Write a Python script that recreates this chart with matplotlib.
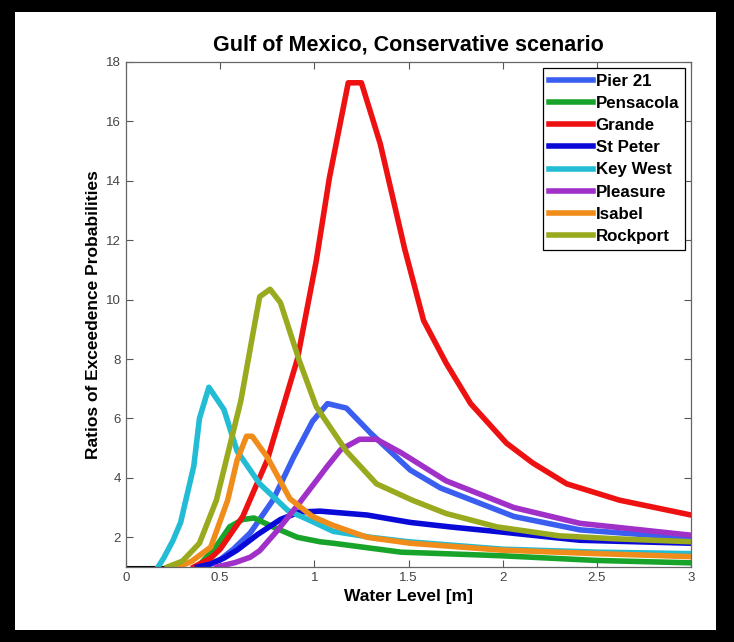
import matplotlib.pyplot as plt
from matplotlib.patches import Rectangle

plt.rcParams['font.family'] = ['Liberation Sans', 'DejaVu Sans']

# water level [m] and ratio values
pier21_x = [0.40, 0.50, 0.57, 0.66, 0.78, 0.89, 0.99, 1.07, 1.17, 1.30, 1.51, 1.67, 2.06, 2.41, 3.0]
pier21_y = [1.0, 1.25, 1.6, 2.15, 3.25, 4.7, 5.9, 6.5, 6.35, 5.5, 4.26, 3.66, 2.7, 2.25, 1.97]

pensacola_x = [0.38, 0.48, 0.55, 0.62, 0.68, 0.78, 0.91, 1.03, 1.10, 1.46, 1.99, 2.5, 3.0]
pensacola_y = [1.0, 1.7, 2.35, 2.6, 2.65, 2.35, 2.0, 1.85, 1.8, 1.5, 1.38, 1.22, 1.14]

grande_x = [0.36, 0.45, 0.50, 0.62, 0.75, 0.91, 1.01, 1.08, 1.18, 1.25, 1.35, 1.48, 1.58,
            1.70, 1.83, 2.02, 2.16, 2.34, 2.62, 3.0]
grande_y = [1.0, 1.3, 1.6, 2.7, 4.6, 8.0, 11.3, 14.1, 17.3, 17.3, 15.25, 11.7, 9.3,
            7.86, 6.5, 5.17, 4.5, 3.8, 3.25, 2.75]

stpeter_x = [0.38, 0.45, 0.52, 0.59, 0.70, 0.82, 0.92, 1.03, 1.28, 1.51, 1.72, 1.99, 2.41, 3.0]
stpeter_y = [1.0, 1.1, 1.3, 1.57, 2.1, 2.6, 2.85, 2.88, 2.75, 2.5, 2.35, 2.18, 1.9, 1.8]

keywest_x = [0.17, 0.20, 0.25, 0.29, 0.36, 0.39, 0.44, 0.52, 0.59, 0.71, 0.86, 1.0, 1.1,
             1.3, 1.5, 2.0, 2.5, 3.0]
keywest_y = [1.0, 1.3, 1.9, 2.5, 4.4, 6.0, 7.05, 6.3, 4.9, 3.8, 2.9, 2.5, 2.2,
             2.0, 1.85, 1.6, 1.5, 1.45]

pleasure_x = [0.48, 0.58, 0.66, 0.71, 0.80, 0.92, 1.07, 1.14, 1.24, 1.33, 1.46, 1.70, 2.06, 2.41, 3.0]
pleasure_y = [1.0, 1.15, 1.33, 1.55, 2.2, 3.15, 4.4, 4.95, 5.3, 5.3, 4.85, 3.9, 3.0, 2.47, 2.07]

isabel_x = [0.28, 0.35, 0.45, 0.54, 0.59, 0.64, 0.67, 0.75, 0.87, 0.99, 1.10, 1.28, 1.51, 1.99, 2.5, 3.0]
isabel_y = [1.0, 1.2, 1.67, 3.25, 4.6, 5.4, 5.4, 4.7, 3.3, 2.7, 2.4, 2.0, 1.8, 1.57, 1.45, 1.35]

rockport_x = [0.22, 0.30, 0.39, 0.48, 0.61, 0.68, 0.71, 0.765, 0.82, 0.92, 1.01, 1.17, 1.33,
              1.52, 1.70, 1.97, 2.3, 2.6, 3.0]
rockport_y = [1.0, 1.2, 1.8, 3.25, 6.6, 9.07, 10.1, 10.35, 9.9, 7.95, 6.4, 4.9, 3.8,
              3.25, 2.8, 2.35, 2.05, 1.95, 1.85]

base_x = [0.0, 0.2]
base_y = [1.0, 1.0]

series = [
    ('Pier 21', pier21_x, pier21_y, '#3a5ff0'),
    ('Pensacola', pensacola_x, pensacola_y, '#18a42a'),
    ('Grande', grande_x, grande_y, '#ee1111'),
    ('St Peter', stpeter_x, stpeter_y, '#0a0ad8'),
    ('Key West', keywest_x, keywest_y, '#22bcd4'),
    ('Pleasure', pleasure_x, pleasure_y, '#a030c8'),
    ('Isabel', isabel_x, isabel_y, '#f08c1a'),
    ('Rockport', rockport_x, rockport_y, '#9aaa1e'),
]

fig = plt.figure(figsize=(7.34, 6.42), dpi=100, facecolor='black')
fig.patches.append(Rectangle((15 / 734, 1 - 630 / 642), 701 / 734, 618 / 642,
                             transform=fig.transFigure, facecolor='white',
                             edgecolor='none', zorder=-10))

ax = fig.add_axes([126 / 734, 1 - 567 / 642, 565 / 734, 505 / 642])
ax.plot(base_x, base_y, color='black', lw=1.5)
for name, xs, ys, col in series:
    ax.plot(xs, ys, color=col, lw=4, label=name)

ax.set_xlim(0, 3)
ax.set_ylim(1, 18)
ax.set_xticks([0, 0.5, 1, 1.5, 2, 2.5, 3])
ax.set_xticklabels(['0', '0.5', '1', '1.5', '2', '2.5', '3'])
ax.set_yticks([2, 4, 6, 8, 10, 12, 14, 16, 18])
ax.tick_params(direction='in', top=True, right=True, length=5, width=0.8,
               color='#555555', labelcolor='#444444', labelsize=9.5)
for sp in ax.spines.values():
    sp.set_color('#666666')
    sp.set_linewidth(0.9)

ax.set_title('Gulf of Mexico, Conservative scenario', fontsize=15.5, fontweight='bold', pad=8)
ax.set_xlabel('Water Level [m]', fontsize=12.5, fontweight='bold', labelpad=4)
ax.set_ylabel('Ratios of Exceedence Probabilities', fontsize=12.5, fontweight='bold', labelpad=4)

leg = ax.legend(loc='upper right', bbox_to_anchor=(0.9895, 0.988),
                prop={'weight': 'bold', 'size': 12.2}, handlelength=2.6, handletextpad=0.15,
                labelspacing=0.42, borderpad=0.35, borderaxespad=0.0,
                fancybox=False, framealpha=1)
leg.get_frame().set_edgecolor('black')
leg.get_frame().set_linewidth(0.9)

fig.savefig('out.png', dpi=100, facecolor=fig.get_facecolor())
